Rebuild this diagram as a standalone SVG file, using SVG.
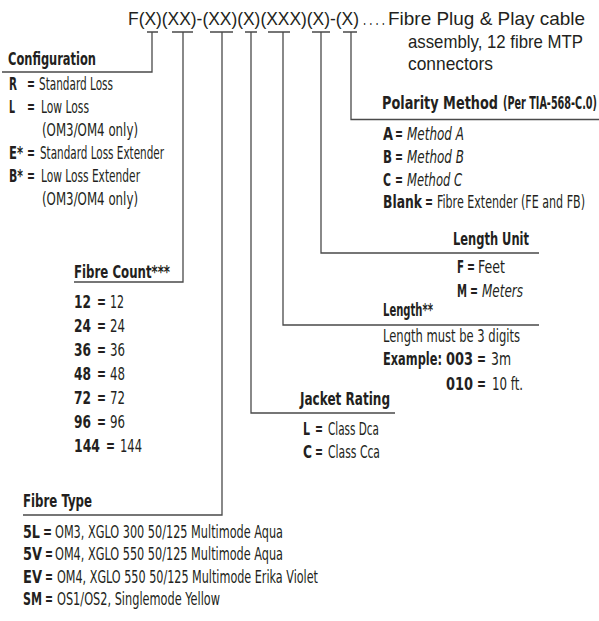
<svg xmlns="http://www.w3.org/2000/svg" width="599" height="621" viewBox="0 0 599 621">
<style>
text{fill:#231f20;font-family:"DejaVu Sans Condensed","DejaVu Sans","Liberation Sans",sans-serif;font-size:18px;font-stretch:condensed;}
.b{font-weight:bold;}
.r{font-weight:normal;}
.i{font-weight:normal;font-style:italic;}
.m{font-weight:600;}
text.h{font-family:"Liberation Sans",Arial,sans-serif;font-size:19px;font-stretch:normal;}
.ln{fill:none;stroke:#4a4a4a;stroke-width:1.3;}
</style>
<rect width="599" height="621" fill="#ffffff"/>

<g id="code">
<text class="h" y="25" lengthAdjust="spacingAndGlyphs"><tspan x="128" textLength="231" lengthAdjust="spacingAndGlyphs">F(X)(XX)-(XX)(X)(XXX)(X)-(X)</tspan><tspan x="363" textLength="22" lengthAdjust="spacingAndGlyphs">. . . .</tspan><tspan x="388" textLength="197" lengthAdjust="spacingAndGlyphs">Fibre Plug &amp; Play cable</tspan></text>
<text class="h" x="408" y="47.5" textLength="175" lengthAdjust="spacingAndGlyphs">assembly, 12 fibre MTP</text>
<text class="h" x="408" y="70" textLength="85" lengthAdjust="spacingAndGlyphs">connectors</text>
</g>

<g id="connectors">
<path class="ln" d="M147 32H158M172 32H193M210 32H233M245 32H257M268 32H290M312 32H330M343 32H357"/>
<path class="ln" d="M152 32V72H2"/>
<path class="ln" d="M183 32V282H74"/>
<path class="ln" d="M222 32V515H23"/>
<path class="ln" d="M251 32V413H395"/>
<path class="ln" d="M283 32V325H539"/>
<path class="ln" d="M321 32V253H539"/>
<path class="ln" d="M351 32V119.5H599"/>
</g>

<g id="configuration">
<text class="b" x="8" y="65" textLength="88" lengthAdjust="spacingAndGlyphs">Configuration</text>
<text y="90"><tspan class="b" x="9" textLength="8" lengthAdjust="spacingAndGlyphs">R</tspan><tspan class="b" x="27" textLength="8" lengthAdjust="spacingAndGlyphs">=</tspan><tspan class="r" x="39" textLength="74" lengthAdjust="spacingAndGlyphs">Standard Loss</tspan></text>
<text y="113"><tspan class="b" x="9" textLength="6" lengthAdjust="spacingAndGlyphs">L</tspan><tspan class="b" x="27" textLength="8" lengthAdjust="spacingAndGlyphs">=</tspan><tspan class="r" x="41" textLength="48" lengthAdjust="spacingAndGlyphs">Low Loss</tspan></text>
<text class="r" x="42" y="136" textLength="96" lengthAdjust="spacingAndGlyphs">(OM3/OM4 only)</text>
<text y="159"><tspan class="b" x="9" textLength="14" lengthAdjust="spacingAndGlyphs">E*</tspan><tspan class="b" x="27" textLength="8" lengthAdjust="spacingAndGlyphs">=</tspan><tspan class="r" x="40" textLength="124" lengthAdjust="spacingAndGlyphs">Standard Loss Extender</tspan></text>
<text y="182"><tspan class="b" x="9" textLength="14" lengthAdjust="spacingAndGlyphs">B*</tspan><tspan class="b" x="27" textLength="8" lengthAdjust="spacingAndGlyphs">=</tspan><tspan class="r" x="41" textLength="99" lengthAdjust="spacingAndGlyphs">Low Loss Extender</tspan></text>
<text class="r" x="42" y="205" textLength="96" lengthAdjust="spacingAndGlyphs">(OM3/OM4 only)</text>
</g>

<g id="fibre-count">
<text class="b" x="74" y="278" textLength="96" lengthAdjust="spacingAndGlyphs">Fibre Count***</text>
<text y="308"><tspan class="b" x="74" textLength="17" lengthAdjust="spacingAndGlyphs">12</tspan><tspan class="b" x="97" textLength="9" lengthAdjust="spacingAndGlyphs">=</tspan><tspan class="r" x="110" textLength="14" lengthAdjust="spacingAndGlyphs">12</tspan></text>
<text y="332"><tspan class="b" x="74" textLength="17" lengthAdjust="spacingAndGlyphs">24</tspan><tspan class="b" x="97" textLength="9" lengthAdjust="spacingAndGlyphs">=</tspan><tspan class="r" x="110" textLength="15" lengthAdjust="spacingAndGlyphs">24</tspan></text>
<text y="356"><tspan class="b" x="74" textLength="17" lengthAdjust="spacingAndGlyphs">36</tspan><tspan class="b" x="97" textLength="9" lengthAdjust="spacingAndGlyphs">=</tspan><tspan class="r" x="110" textLength="15" lengthAdjust="spacingAndGlyphs">36</tspan></text>
<text y="380"><tspan class="b" x="74" textLength="17" lengthAdjust="spacingAndGlyphs">48</tspan><tspan class="b" x="97" textLength="9" lengthAdjust="spacingAndGlyphs">=</tspan><tspan class="r" x="110" textLength="15" lengthAdjust="spacingAndGlyphs">48</tspan></text>
<text y="404"><tspan class="b" x="74" textLength="17" lengthAdjust="spacingAndGlyphs">72</tspan><tspan class="b" x="97" textLength="9" lengthAdjust="spacingAndGlyphs">=</tspan><tspan class="r" x="110" textLength="15" lengthAdjust="spacingAndGlyphs">72</tspan></text>
<text y="428"><tspan class="b" x="74" textLength="17" lengthAdjust="spacingAndGlyphs">96</tspan><tspan class="b" x="97" textLength="9" lengthAdjust="spacingAndGlyphs">=</tspan><tspan class="r" x="110" textLength="15" lengthAdjust="spacingAndGlyphs">96</tspan></text>
<text y="452"><tspan class="b" x="74" textLength="26" lengthAdjust="spacingAndGlyphs">144</tspan><tspan class="b" x="106" textLength="9" lengthAdjust="spacingAndGlyphs">=</tspan><tspan class="r" x="120" textLength="22" lengthAdjust="spacingAndGlyphs">144</tspan></text>
</g>

<g id="fibre-type">
<text class="b" x="23" y="507" textLength="69" lengthAdjust="spacingAndGlyphs">Fibre Type</text>
<text y="538"><tspan class="b" x="23" textLength="17" lengthAdjust="spacingAndGlyphs">5L</tspan><tspan class="b" x="43" textLength="9" lengthAdjust="spacingAndGlyphs">=</tspan><tspan class="r" x="55" textLength="228" lengthAdjust="spacingAndGlyphs">OM3, XGLO 300 50/125 Multimode Aqua</tspan></text>
<text y="560"><tspan class="b" x="23" textLength="19" lengthAdjust="spacingAndGlyphs">5V</tspan><tspan class="b" x="45" textLength="8" lengthAdjust="spacingAndGlyphs">=</tspan><tspan class="r" x="55" textLength="228" lengthAdjust="spacingAndGlyphs">OM4, XGLO 550 50/125 Multimode Aqua</tspan></text>
<text y="583"><tspan class="b" x="23" textLength="19" lengthAdjust="spacingAndGlyphs">EV</tspan><tspan class="b" x="45" textLength="8" lengthAdjust="spacingAndGlyphs">=</tspan><tspan class="r" x="57" textLength="261" lengthAdjust="spacingAndGlyphs">OM4, XGLO 550 50/125 Multimode Erika Violet</tspan></text>
<text y="605"><tspan class="b" x="23" textLength="19" lengthAdjust="spacingAndGlyphs">SM</tspan><tspan class="b" x="45" textLength="8" lengthAdjust="spacingAndGlyphs">=</tspan><tspan class="r" x="57" textLength="163" lengthAdjust="spacingAndGlyphs">OS1/OS2, Singlemode Yellow</tspan></text>
</g>

<g id="jacket-rating">
<text class="b" x="300" y="405" textLength="90" lengthAdjust="spacingAndGlyphs">Jacket Rating</text>
<text y="435"><tspan class="b" x="303" textLength="7" lengthAdjust="spacingAndGlyphs">L</tspan><tspan class="b" x="315" textLength="8" lengthAdjust="spacingAndGlyphs">=</tspan><tspan class="r" x="328" textLength="51" lengthAdjust="spacingAndGlyphs">Class Dca</tspan></text>
<text y="458"><tspan class="b" x="303" textLength="9" lengthAdjust="spacingAndGlyphs">C</tspan><tspan class="b" x="315" textLength="8" lengthAdjust="spacingAndGlyphs">=</tspan><tspan class="r" x="328" textLength="52" lengthAdjust="spacingAndGlyphs">Class Cca</tspan></text>
</g>

<g id="length">
<text class="b" x="383" y="316" textLength="50" lengthAdjust="spacingAndGlyphs">Length**</text>
<text class="r" x="383" y="342" textLength="137" lengthAdjust="spacingAndGlyphs">Length must be 3 digits</text>
<text y="365"><tspan class="b" x="383" textLength="59" lengthAdjust="spacingAndGlyphs">Example:</tspan><tspan class="b" x="446" textLength="27" lengthAdjust="spacingAndGlyphs">003</tspan><tspan class="b" x="477" textLength="9" lengthAdjust="spacingAndGlyphs">=</tspan><tspan class="r" x="491" textLength="20" lengthAdjust="spacingAndGlyphs">3m</tspan></text>
<text y="390"><tspan class="b" x="446" textLength="27" lengthAdjust="spacingAndGlyphs">010</tspan><tspan class="b" x="477" textLength="9" lengthAdjust="spacingAndGlyphs">=</tspan><tspan class="r" x="492" textLength="31" lengthAdjust="spacingAndGlyphs">10 ft.</tspan></text>
</g>

<g id="length-unit">
<text class="b" x="453" y="245" textLength="76" lengthAdjust="spacingAndGlyphs">Length Unit</text>
<text y="273"><tspan class="b" x="457" textLength="7" lengthAdjust="spacingAndGlyphs">F</tspan><tspan class="b" x="467" textLength="8" lengthAdjust="spacingAndGlyphs">=</tspan><tspan class="r" x="478" textLength="27" lengthAdjust="spacingAndGlyphs">Feet</tspan></text>
<text y="297"><tspan class="b" x="457" textLength="10" lengthAdjust="spacingAndGlyphs">M</tspan><tspan class="b" x="470" textLength="8" lengthAdjust="spacingAndGlyphs">=</tspan><tspan class="i" x="482" textLength="41" lengthAdjust="spacingAndGlyphs">Meters</tspan></text>
</g>

<g id="polarity-method">
<text y="109"><tspan class="b" x="382" textLength="116" lengthAdjust="spacingAndGlyphs">Polarity Method</tspan><tspan class="m" x="503" textLength="94" lengthAdjust="spacingAndGlyphs">(Per TIA-568-C.0)</tspan></text>
<text y="140"><tspan class="b" x="383" textLength="10" lengthAdjust="spacingAndGlyphs">A</tspan><tspan class="b" x="395" textLength="8" lengthAdjust="spacingAndGlyphs">=</tspan><tspan class="i" x="407" textLength="57" lengthAdjust="spacingAndGlyphs">Method A</tspan></text>
<text y="163"><tspan class="b" x="383" textLength="9" lengthAdjust="spacingAndGlyphs">B</tspan><tspan class="b" x="395" textLength="8" lengthAdjust="spacingAndGlyphs">=</tspan><tspan class="i" x="407" textLength="57" lengthAdjust="spacingAndGlyphs">Method B</tspan></text>
<text y="186"><tspan class="b" x="383" textLength="8" lengthAdjust="spacingAndGlyphs">C</tspan><tspan class="b" x="395" textLength="8" lengthAdjust="spacingAndGlyphs">=</tspan><tspan class="i" x="407" textLength="55" lengthAdjust="spacingAndGlyphs">Method C</tspan></text>
<text y="208"><tspan class="b" x="383" textLength="39" lengthAdjust="spacingAndGlyphs">Blank</tspan><tspan class="b" x="425" textLength="8" lengthAdjust="spacingAndGlyphs">=</tspan><tspan class="r" x="437" textLength="148" lengthAdjust="spacingAndGlyphs">Fibre Extender (FE and FB)</tspan></text>
</g>
</svg>
